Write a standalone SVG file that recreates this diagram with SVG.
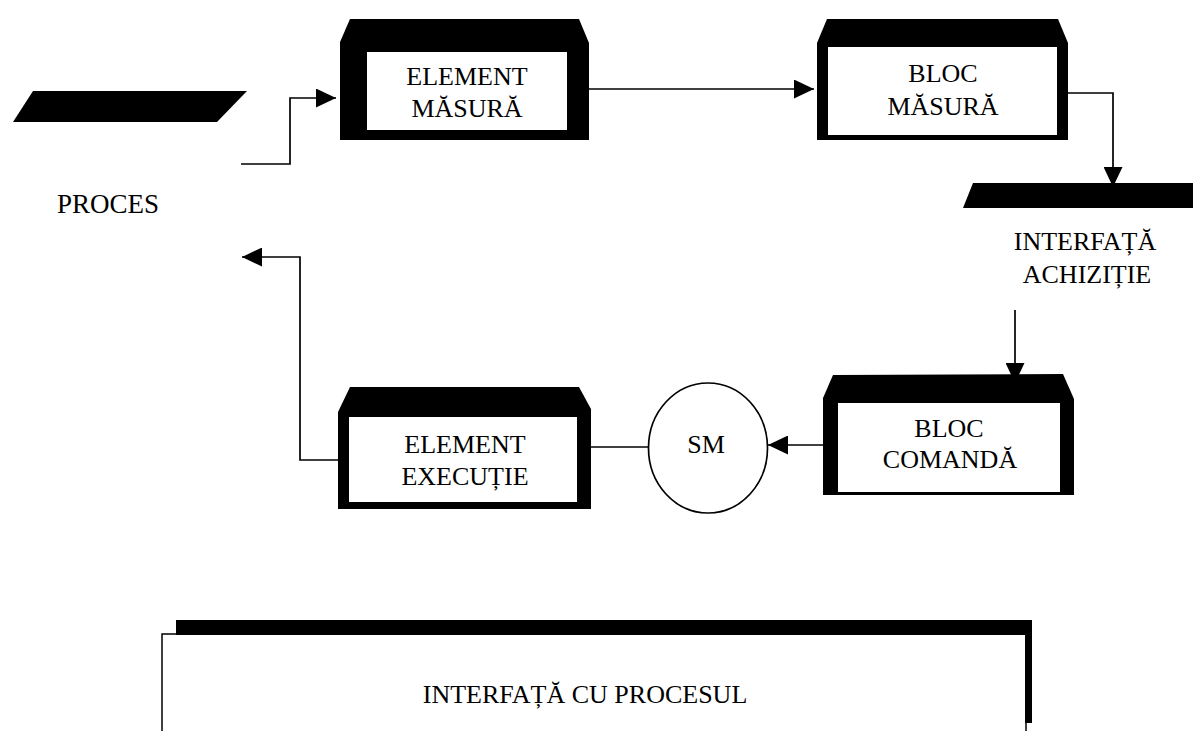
<svg xmlns="http://www.w3.org/2000/svg" width="1193" height="731" viewBox="0 0 1193 731">
  <style>
    .lbl { font-family: "Liberation Serif", "Times New Roman", serif; font-size: 26px; fill: #000; text-anchor: middle; }
    .frame { fill: #000; stroke: none; }
    .inner { fill: #fff; stroke: none; }
    .wire { fill: none; stroke: #000; stroke-width: 1.7; }
    .bar { fill: #000; stroke: none; }
  </style>
  <defs>
    <marker id="arrow" viewBox="0 0 20 19" refX="20" refY="9.5" markerWidth="20" markerHeight="19" markerUnits="userSpaceOnUse" orient="auto">
      <path d="M0,0 L20,9.5 L0,19 z" fill="#000"/>
    </marker>
  </defs>
  <rect width="1193" height="731" fill="#fff"/>

  <!-- process (left) -->
  <g id="proces">
    <polygon class="bar" points="33,91 247,91 217,122 13,122"/>
    <text class="lbl" x="108" y="213" style="font-size:27px">PROCES</text>
  </g>

  <!-- measuring element -->
  <g id="element-masura">
    <polygon class="frame" points="350,19 579,19 589,43 589,140 340,140 340,42"/>
    <rect class="inner" x="367" y="52" width="200" height="78"/>
    <text class="lbl" x="467" y="85">ELEMENT</text>
    <text class="lbl" x="467" y="117">MĂSURĂ</text>
  </g>

  <!-- measuring block -->
  <g id="bloc-masura">
    <polygon class="frame" points="827,19 1058,19 1068,43 1068,140 817,140 817,43"/>
    <rect class="inner" x="828" y="47" width="229" height="88"/>
    <text class="lbl" x="943" y="82">BLOC</text>
    <text class="lbl" x="943" y="115">MĂSURĂ</text>
  </g>

  <!-- acquisition interface -->
  <g id="interfata-achizitie">
    <polygon class="bar" points="973,183 1193,183 1193,208 963,208"/>
    <text class="lbl" x="1085" y="250">INTERFAȚĂ</text>
    <text class="lbl" x="1087" y="283">ACHIZIȚIE</text>
  </g>

  <!-- command block -->
  <g id="bloc-comanda">
    <polygon class="frame" points="833,375 1063,374 1074,399 1074,495 823,495 823,398"/>
    <rect class="inner" x="838" y="403" width="222" height="89"/>
    <text class="lbl" x="949" y="437">BLOC</text>
    <text class="lbl" x="950" y="468">COMANDĂ</text>
  </g>

  <!-- SM -->
  <g id="sm">
    <ellipse cx="708" cy="448" rx="59.5" ry="65" fill="#fff" stroke="#000" stroke-width="1.7"/>
    <text class="lbl" x="706" y="453">SM</text>
  </g>

  <!-- execution element -->
  <g id="element-executie">
    <polygon class="frame" points="350,387 579,387 591,409 591,509 338,509 338,412"/>
    <rect class="inner" x="349" y="417" width="228" height="85"/>
    <text class="lbl" x="465" y="453">ELEMENT</text>
    <text class="lbl" x="465" y="485">EXECUȚIE</text>
  </g>

  <!-- process interface frame -->
  <g id="interfata-proces">
    <rect x="162" y="634" width="864" height="120" fill="#fff" stroke="#000" stroke-width="1.5"/>
    <polygon class="bar" points="176,620 1032,620 1032,723 1025,723 1025,635 176,635"/>
    <text class="lbl" x="585" y="703">INTERFAȚĂ CU PROCESUL</text>
  </g>

  <!-- connectors -->
  <g id="connectors">
    <polyline class="wire" points="241,164 290,164 290,98 336,98" marker-end="url(#arrow)"/>
    <line class="wire" x1="589" y1="89" x2="814" y2="89" marker-end="url(#arrow)"/>
    <polyline class="wire" points="1068,93 1113,93 1113,187" marker-end="url(#arrow)"/>
    <line class="wire" x1="1015" y1="310" x2="1015" y2="383" marker-end="url(#arrow)"/>
    <line class="wire" x1="823" y1="445" x2="768" y2="445" marker-end="url(#arrow)"/>
    <line class="wire" x1="591" y1="447" x2="649" y2="447"/>
    <polyline class="wire" points="338,460 300,460 300,257 242,257" marker-end="url(#arrow)"/>
  </g>
</svg>
